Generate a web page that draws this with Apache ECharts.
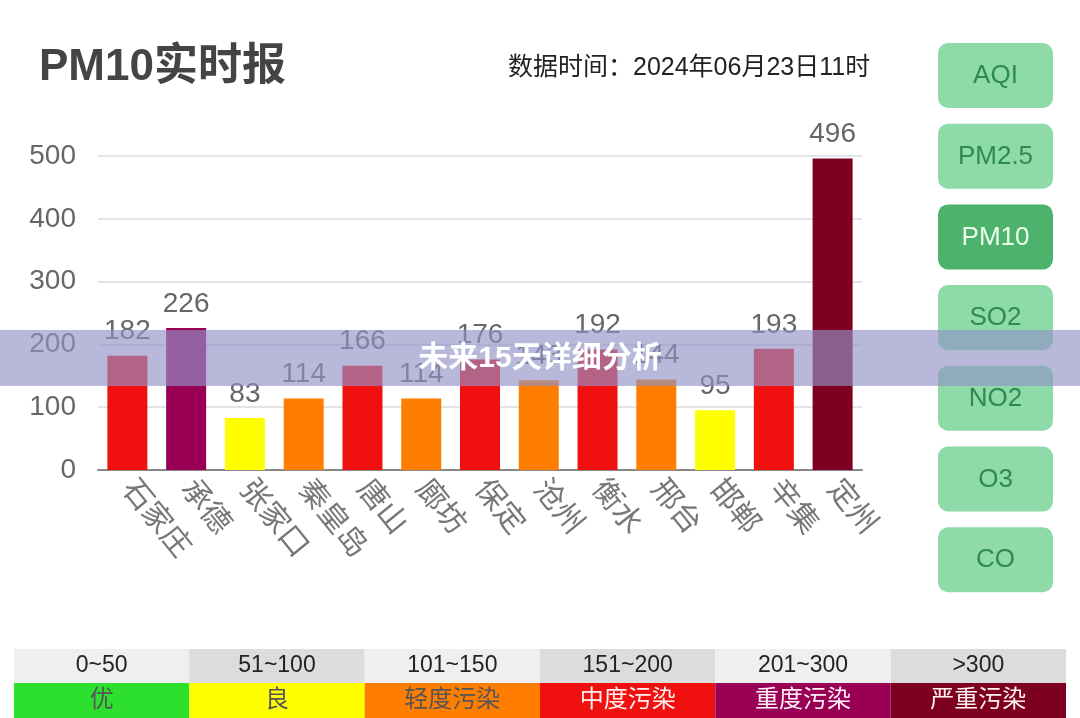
<!DOCTYPE html>
<html>
<head>
<meta charset="utf-8">
<title>PM10实时报</title>
<script src="https://cdn.jsdelivr.net/npm/echarts@6/dist/echarts.min.js"></script>
<style>
html, body { margin: 0; padding: 0; background: #fff; }
#main { width: 1080px; height: 718px; }
</style>
</head>
<body>
<div id="main"></div>
<script>
var cities = ['石家庄', '承德', '张家口', '秦皇岛', '唐山', '廊坊', '保定', '沧州', '衡水', '邢台', '邯郸', '辛集', '定州'];
var pm10 = [182, 226, 83, 114, 166, 114, 176, 143, 192, 144, 95, 193, 496];

var levelRanges = ['0~50', '51~100', '101~150', '151~200', '201~300', '>300'];
var levelNames = ['优', '良', '轻度污染', '中度污染', '重度污染', '严重污染'];
var levelMax = [50, 100, 150, 200, 300, Infinity];
var levelColors = ['#2ee02e', '#ffff00', '#ff7e00', '#f01010', '#990055', '#7e0020'];
var levelTextColors = ['#555', '#555', '#555', '#fff0f0', '#fff0f5', '#fff0f0'];

var buttons = ['AQI', 'PM2.5', 'PM10', 'SO2', 'NO2', 'O3', 'CO'];
var activeButton = 'PM10';

var fontFamily = '"Liberation Sans", "Noto Sans CJK SC", sans-serif';

var chart = echarts.init(document.getElementById('main'));

function levelColor(v) {
    for (var i = 0; i < levelMax.length; i++) {
        if (v <= levelMax[i]) return levelColors[i];
    }
    return levelColors[levelColors.length - 1];
}

var barData = pm10.map(function (v) {
    return { value: v, itemStyle: { color: levelColor(v) } };
});

var graphics = [];

// 右侧切换按钮
buttons.forEach(function (name, i) {
    var active = name === activeButton;
    graphics.push({
        type: 'group',
        left: 938,
        top: 43 + i * 80.7,
        children: [
            {
                type: 'rect',
                shape: { x: 0, y: 0, width: 115, height: 65, r: 10 },
                style: { fill: active ? '#4cb26c' : '#8edaa9' }
            },
            {
                type: 'text',
                x: 57.5,
                y: 33,
                style: {
                    text: name,
                    fill: active ? '#ecffec' : '#2e8a52',
                    font: '26px ' + fontFamily,
                    align: 'center',
                    verticalAlign: 'middle'
                }
            }
        ]
    });
});

// 底部等级表
var cellW = (1066 - 14) / levelRanges.length;
levelRanges.forEach(function (r, i) {
    var x0 = 14 + i * cellW;
    graphics.push({
        type: 'rect',
        shape: { x: x0, y: 649, width: cellW, height: 34 },
        style: { fill: i % 2 === 0 ? '#efefef' : '#dcdcdc' }
    });
    graphics.push({
        type: 'text',
        x: x0 + cellW / 2,
        y: 666,
        style: {
            text: r, fill: '#222', font: '23px ' + fontFamily,
            align: 'center', verticalAlign: 'middle'
        }
    });
    graphics.push({
        type: 'rect',
        shape: { x: x0, y: 683, width: cellW, height: 35 },
        style: { fill: levelColors[i] }
    });
    graphics.push({
        type: 'text',
        x: x0 + cellW / 2,
        y: 700,
        style: {
            text: levelNames[i], fill: levelTextColors[i], font: '24px ' + fontFamily,
            align: 'center', verticalAlign: 'middle'
        }
    });
});

// 横幅
graphics.push({
    type: 'rect',
    z: 100,
    shape: { x: 0, y: 330, width: 1080, height: 56 },
    style: { fill: 'rgba(146,146,198,0.65)' }
});
graphics.push({
    type: 'text',
    z: 101,
    x: 540,
    y: 359,
    style: {
        text: '未来15天详细分析',
        fill: '#fff',
        font: 'bold 30px ' + fontFamily,
        align: 'center',
        verticalAlign: 'middle',
        shadowColor: 'rgba(0,0,0,0.25)',
        shadowBlur: 3
    }
});

var option = {
    textStyle: { fontFamily: fontFamily },
    animation: false,
    title: [
        {
            text: 'PM10实时报',
            left: 34,
            top: 41,
            textStyle: { fontSize: 44, fontWeight: 'bold', color: '#444', fontFamily: fontFamily }
        },
        {
            text: '数据时间：2024年06月23日11时',
            left: 503,
            top: 51,
            textStyle: { fontSize: 25, fontWeight: 'normal', color: '#222', fontFamily: fontFamily }
        }
    ],
    grid: { left: 98, right: 218, top: 156, bottom: 248 },
    xAxis: {
        type: 'category',
        data: cities,
        axisLine: { lineStyle: { color: '#888', width: 2 } },
        axisTick: { length: 11, lineStyle: { color: '#888', width: 2 } },
        axisLabel: { rotate: -51, fontSize: 30, color: '#777', margin: 14, interval: 0 }
    },
    yAxis: {
        type: 'value',
        min: 0,
        max: 500,
        interval: 100,
        axisLine: { show: false },
        axisTick: { show: false },
        axisLabel: { fontSize: 28, color: '#666', margin: 22 },
        splitLine: { lineStyle: { color: '#e3e3ea', width: 2 } }
    },
    series: [
        {
            type: 'bar',
            data: barData,
            barWidth: 40,
            label: { show: true, position: 'top', fontSize: 28, color: '#666', distance: 10 }
        }
    ],
    graphic: graphics
};

chart.setOption(option);
</script>
</body>
</html>
